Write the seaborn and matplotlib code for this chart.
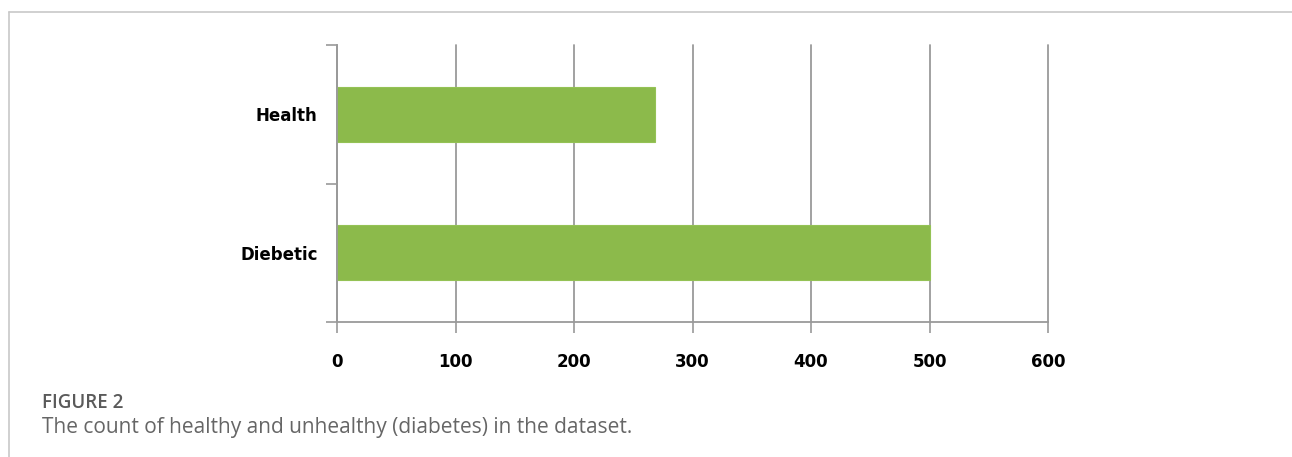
import matplotlib
matplotlib.use("Agg")
import matplotlib.pyplot as plt
import seaborn as sns
import pandas as pd
from matplotlib.lines import Line2D

categories = ["Health", "Diebetic"]
counts = [268, 500]
x_ticks = [0, 100, 200, 300, 400, 500, 600]

sns.set_theme(style="white")
plt.rcParams['font.family'] = ['DejaVu Sans']

df = pd.DataFrame({"category": categories, "count": counts})

fig = plt.figure(figsize=(12.92, 4.57), dpi=100)
ax = fig.add_axes([337/1292, 1-322/457, (1048-337)/1292, (322-45)/457])

sns.barplot(data=df, y="category", x="count", orient="h", color="#8cba4b",
            saturation=1, width=0.4, edgecolor="#94c255", linewidth=0.8, ax=ax)

grid_c = "#9a9a9a"
ax.set_xlim(0, 600)
ax.set_ylim(1.5, -0.5)
ax.set_xticks(x_ticks)
ax.set_xticklabels([str(t) for t in x_ticks], fontsize=12, fontweight="bold",
                   family="DejaVu Sans", color="black")
ax.set_yticks(range(len(categories)))
ax.set_yticklabels(categories, fontsize=12, fontweight="bold",
                   family="DejaVu Sans", color="black")
ax.tick_params(axis="y", length=0, pad=14)
ax.set_yticks([-0.5, 0.5, 1.5], minor=True)
ax.tick_params(axis="y", which="minor", length=8, width=1.2, color=grid_c, left=True)
ax.tick_params(axis="x", length=8, width=1.2, color=grid_c, bottom=True, pad=14)
ax.xaxis.grid(True, color=grid_c, linewidth=1.3)
for gl in ax.get_xgridlines():
    gl.set_clip_on(False)
ax.set_axisbelow(True)
for s in ["top", "right"]:
    ax.spines[s].set_visible(False)
for s in ["left", "bottom"]:
    ax.spines[s].set_color(grid_c)
    ax.spines[s].set_linewidth(1.3)
ax.set_xlabel("")
ax.set_ylabel("")

border = "#c8c8c8"
fig.add_artist(Line2D([9/1292, 1], [1-12/457, 1-12/457], color=border, linewidth=1.2))
fig.add_artist(Line2D([9/1292, 9/1292], [0, 1-12/457], color=border, linewidth=1.2))

fig.text(42/1292, 1-403/457, "FIGURE 2", family=["Open Sans", "DejaVu Sans"],
         fontweight="semibold", fontsize=13.5, color="#5a5a5a", va="center", ha="left")
fig.text(42/1292, 1-428/457, "The count of healthy and unhealthy (diabetes) in the dataset.",
         family=["Open Sans", "DejaVu Sans"], fontsize=15, color="#666666", va="center", ha="left")

fig.savefig("out.png", dpi=100)
